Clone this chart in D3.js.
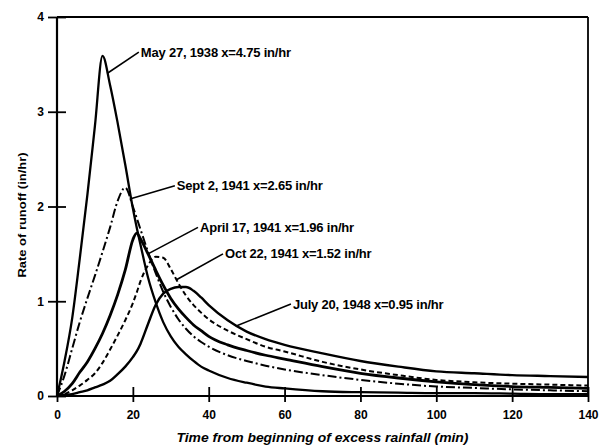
<!DOCTYPE html>
<html>
<head>
<meta charset="utf-8">
<script src="https://cdn.jsdelivr.net/npm/d3@7"></script>
<style>
html,body{margin:0;padding:0;background:#fff;}
svg{display:block;}
text{font-family:"Liberation Sans",Arial,sans-serif;font-weight:bold;fill:#000;}
</style>
</head>
<body>
<svg id="chart" width="606" height="446"></svg>
<script>
// ---- data ----
const times = [0,2,4,6,8,10,12,14,16,18,20,21,22,24,26,28,30,32,34,36,38,40,45,50,55,60,70,80,90,100,110,120,130,140];
const may1938  = [0,0.37,0.82,1.45,2.12,2.85,3.59,3.28,2.88,2.44,1.98,1.78,1.60,1.25,0.99,0.78,0.63,0.52,0.44,0.37,0.31,0.27,0.19,0.14,0.10,0.08,0.05,0.04,0.035,0.03,0.03,0.025,0.02,0.02];
const sept1941 = [0,0.22,0.50,0.78,1.03,1.27,1.52,1.78,2.06,2.20,2.00,1.88,1.76,1.52,1.30,1.10,0.94,0.81,0.71,0.63,0.57,0.52,0.43,0.37,0.32,0.28,0.22,0.17,0.13,0.10,0.085,0.07,0.06,0.05];
const april1941= [0,0.05,0.13,0.25,0.36,0.50,0.66,0.85,1.07,1.33,1.65,1.72,1.66,1.50,1.33,1.17,1.03,0.92,0.83,0.75,0.69,0.63,0.54,0.48,0.43,0.39,0.31,0.24,0.19,0.15,0.12,0.10,0.09,0.08];
const oct1941  = [0,0.02,0.06,0.11,0.17,0.24,0.35,0.49,0.64,0.80,0.98,1.09,1.21,1.38,1.47,1.46,1.34,1.19,1.06,0.96,0.88,0.81,0.69,0.60,0.52,0.47,0.36,0.28,0.22,0.17,0.145,0.13,0.12,0.11];
const july1948 = [0,0.01,0.02,0.04,0.06,0.09,0.12,0.16,0.23,0.31,0.41,0.47,0.55,0.76,0.96,1.08,1.13,1.15,1.15,1.11,1.04,0.96,0.80,0.68,0.60,0.54,0.45,0.37,0.31,0.26,0.24,0.22,0.21,0.20];
const seriesLabels = ["May 27, 1938 x=4.75 in/hr","Sept 2, 1941 x=2.65 in/hr","April 17, 1941 x=1.96 in/hr","Oct 22, 1941 x=1.52 in/hr","July 20, 1948 x=0.95 in/hr"];
const xTicks = [0,20,40,60,80,100,120,140];
const yTicks = [0,1,2,3,4];
const xTitle = "Time from beginning of excess rainfall (min)";
const yTitle = "Rate of runoff (in/hr)";

// ---- layout / style ----
const svg = d3.select("#chart");
const x = d3.scaleLinear().domain([0,140]).range([57,588]);
const y = d3.scaleLinear().domain([0,4]).range([396,17]);

const seriesValues = [may1938, sept1941, april1941, oct1941, july1948];
const styles = [
  {w:2.3, dash:null},
  {w:2.0, dash:"9,3,2,3"},
  {w:2.8, dash:null},
  {w:2.0, dash:"5,3"},
  {w:2.4, dash:null}
];
// label anchors (data coords) and leader target time
const anno = [
  {lt:22.1, ly:3.63, tt:13.2},
  {lt:31.6, ly:2.22, tt:19.2},
  {lt:37.7, ly:1.78, tt:24.0},
  {lt:44.3, ly:1.50, tt:31.5},
  {lt:62.2, ly:0.97, tt:47.4}
];

// frame top & right
svg.append("line").attr("x1",x(0)).attr("x2",x(140)).attr("y1",y(4)).attr("y2",y(4)).attr("stroke","#000").attr("stroke-width",1.8);
svg.append("line").attr("x1",x(140)).attr("x2",x(140)).attr("y1",y(4)).attr("y2",y(0)).attr("stroke","#000").attr("stroke-width",1.8);

// axes
const xAxis = d3.axisBottom(x).tickValues(xTicks).tickSize(6).tickPadding(6).tickFormat(d3.format("d"));
const gx = svg.append("g").attr("transform",`translate(0,${y(0)})`).call(xAxis);
gx.select(".domain").attr("stroke-width",2.2).attr("d",`M${x(0)},0H${x(140)}`);
gx.selectAll(".tick line").attr("y1",-9).attr("y2",6).attr("stroke-width",1.8);
gx.selectAll(".tick text").attr("font-size",12).attr("font-family","Liberation Sans, Arial, sans-serif").attr("font-weight","bold").attr("dy","0.95em");

const yAxis = d3.axisLeft(y).tickValues(yTicks).tickSize(9).tickPadding(4).tickFormat(d3.format("d"));
const gy = svg.append("g").attr("transform",`translate(${x(0)},0)`).call(yAxis);
gy.select(".domain").attr("stroke-width",2.2).attr("d",`M0,${y(0)}V${y(4)}`);
gy.selectAll(".tick line").attr("x1",-9).attr("x2",9).attr("stroke-width",1.8);
gy.selectAll(".tick text").attr("font-size",12).attr("font-family","Liberation Sans, Arial, sans-serif").attr("font-weight","bold");

// curves
const line = d3.line().x(d=>x(d[0])).y(d=>y(d[1])).curve(d3.curveMonotoneX);
seriesValues.forEach((vals,i)=>{
  const pts = times.map((t,j)=>[t,vals[j]]);
  svg.append("path").datum(pts)
    .attr("d",line).attr("fill","none").attr("stroke","#000")
    .attr("stroke-width",styles[i].w)
    .attr("stroke-dasharray",styles[i].dash)
    .attr("stroke-linejoin","round").attr("stroke-linecap","butt");
});

// annotations
function valueAt(vals,t){
  const interp = d3.scaleLinear().domain(times).range(vals);
  return interp(t);
}
anno.forEach((a,i)=>{
  const tx = x(a.lt), ty = y(a.ly);
  const cx = x(a.tt), cy = y(valueAt(seriesValues[i],a.tt));
  svg.append("line").attr("x1",tx-2).attr("y1",ty).attr("x2",cx).attr("y2",cy).attr("stroke","#000").attr("stroke-width",1.6);
  svg.append("text").attr("x",tx).attr("y",ty).attr("dy","0.35em")
    .attr("font-size",13).attr("letter-spacing",-0.2).text(seriesLabels[i]);
});

// titles
svg.append("text").attr("x",(x(0)+x(140))/2).attr("y",437).attr("dy","0.35em")
  .attr("text-anchor","middle").attr("font-size",13).attr("font-style","italic")
  .attr("textLength",292).attr("lengthAdjust","spacingAndGlyphs").text(xTitle);
svg.append("text").attr("transform","translate(22,215) rotate(-90)").attr("dy","0.35em")
  .attr("text-anchor","middle").attr("font-size",11.5)
  .attr("textLength",125).attr("lengthAdjust","spacingAndGlyphs").text(yTitle);
</script>
</body>
</html>
